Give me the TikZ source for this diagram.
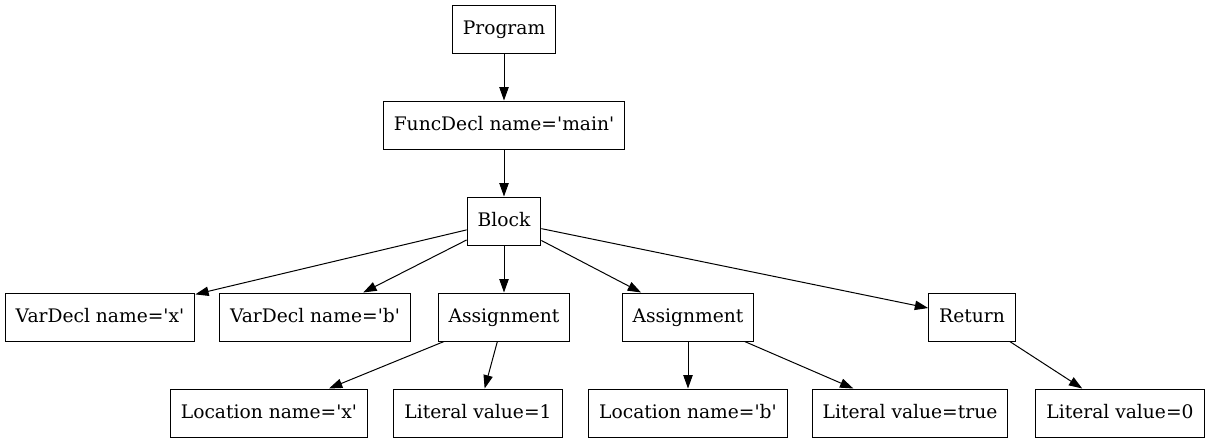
\documentclass[tikz,border=0pt]{standalone}
\usepackage{fontspec}
\setmainfont{DejaVu Serif}[Ligatures=TeXOff]
\usetikzlibrary{arrows.meta}

\begin{document}
\begin{tikzpicture}[x=0.75pt, y=-0.75pt,
    astnode/.style={draw, line width=0.75pt, minimum height=36pt, inner xsep=7.9pt, text height=10.5pt, text depth=3pt, font=\fontsize{14pt}{16pt}\selectfont},
    astedge/.style={line width=0.75pt, -{Triangle[length=10pt, width=7pt]}}]

% Canvas
\useasboundingbox (0,0) rectangle (1211,443);

% Top of the tree
\node[astnode] (prog) at (504,29) {Program};
\node[astnode] (func) at (504,125) {FuncDecl name='main'};
\node[astnode] (block) at (504,221) {Block};

% Statements
\node[astnode] (varx) at (100,317) {VarDecl name='x'};
\node[astnode] (varb) at (315,317) {VarDecl name='b'};
\node[astnode] (assignx) at (504,317) {Assignment};
\node[astnode] (assignb) at (688,317) {Assignment};
\node[astnode] (ret) at (972,317) {Return};

% Leaves
\node[astnode] (locx) at (269,413) {Location name='x'};
\node[astnode] (litone) at (478,413) {Literal value=1};
\node[astnode] (locb) at (688,413) {Location name='b'};
\node[astnode] (littrue) at (910,413) {Literal value=true};
\node[astnode] (litzero) at (1120,413) {Literal value=0};

% Edges
\foreach \from/\to in {prog/func, func/block,
    block/varx, block/varb, block/assignx, block/assignb, block/ret,
    assignx/locx, assignx/litone, assignb/locb, assignb/littrue, ret/litzero} {
    \draw[astedge] (\from) -- (\to);
}

\end{tikzpicture}
\end{document}
